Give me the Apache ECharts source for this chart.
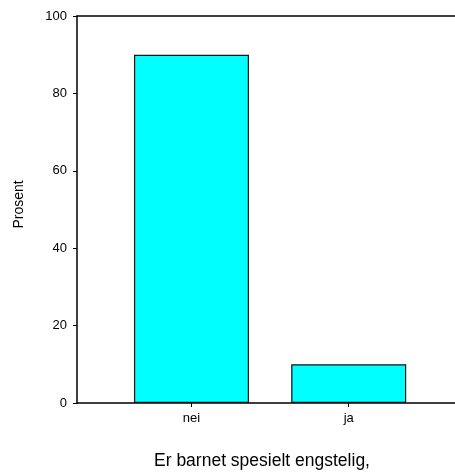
<!DOCTYPE html>
<html>
<head>
<meta charset="utf-8">
<script src="https://cdn.jsdelivr.net/npm/echarts@6/dist/echarts.min.js"></script>
<style>html,body{margin:0;padding:0;background:#fff}#c{width:455px;height:472px}</style>
</head>
<body>
<div id="c"></div>
<script>
const categories = ['nei', 'ja'];
const categoryPositions = [1, 2];
const percentValues = [90.0, 10.0];
const yTicks = [0, 20, 40, 60, 80, 100];
const xTitle = 'Er barnet spesielt engstelig,';
const yTitle = 'Prosent';

const chart = echarts.init(document.getElementById('c'), null, {renderer: 'canvas'});
const font = 'Arial, "Liberation Sans", Helvetica, sans-serif';
const barData = categoryPositions.map((p, i) => [p, percentValues[i]]);
chart.setOption({
  animation: false,
  title: {
    text: xTitle, left: 257, top: 447, textAlign: 'center',
    textStyle: {fontFamily: font, fontSize: 17.5, fontWeight: 'normal', color: '#000'}
  },
  grid: {left: 77, right: -3, top: 16, bottom: 69},
  xAxis: [{
    type: 'value', min: 0.272, max: 2.676,
    splitLine: {show: false},
    axisLine: {show: true, lineStyle: {color: '#000', width: 1.5}},
    axisTick: {show: true, length: 4, customValues: categoryPositions, lineStyle: {color: '#000'}},
    axisLabel: {
      customValues: categoryPositions, margin: 9,
      formatter: v => categories[categoryPositions.indexOf(v)] || '',
      fontFamily: font, fontSize: 13, color: '#000'
    }
  }, {
    type: 'value', position: 'top', min: 0, max: 1,
    axisLine: {show: true, lineStyle: {color: '#000', width: 1.5}},
    axisTick: {show: false}, axisLabel: {show: false}, splitLine: {show: false}
  }],
  yAxis: {
    type: 'value', min: 0, max: 100, interval: 20,
    name: yTitle, nameLocation: 'middle', nameGap: 51,
    nameTextStyle: {fontFamily: font, fontSize: 14, color: '#000', padding: [0, 0, 0, 10]},
    splitLine: {show: false},
    axisLine: {show: true, lineStyle: {color: '#000', width: 1.5}},
    axisTick: {show: true, length: 4, lineStyle: {color: '#000'}},
    axisLabel: {margin: 10, fontFamily: font, fontSize: 13, color: '#000',
      formatter: v => yTicks.includes(v) ? String(v) : ''}
  },
  series: [{
    type: 'bar', data: barData, barWidth: 115,
    itemStyle: {color: '#00FFFF', borderColor: '#111', borderWidth: 1.2}
  }]
});
</script>
</body>
</html>
